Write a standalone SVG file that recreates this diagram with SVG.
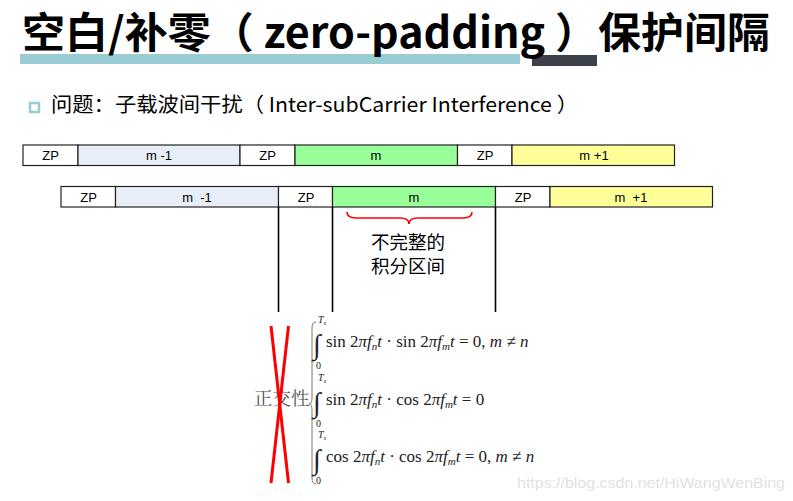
<svg xmlns="http://www.w3.org/2000/svg" width="793" height="501" viewBox="0 0 793 501">
<style>
.cell{stroke:#222;stroke-width:1.2}
.lbl{font-family:"Liberation Sans",Arial,sans-serif;font-size:13px;fill:#000;text-anchor:middle}
.cjk{font-family:"Noto Sans CJK SC",sans-serif}
.math{font-family:"Liberation Serif","Times New Roman",serif;font-size:17px;fill:#222}
.it{font-style:italic}
.vl{stroke:#000;stroke-width:1.6}
</style>
<rect width="793" height="501" fill="#fff"/>
<g id="title">
<rect x="20" y="54" width="500" height="10" fill="#99CCD4"/>
<rect x="532" y="55" width="65" height="11" fill="#3C4049"/>
<text x="22" y="48" class="cjk" font-size="42" font-weight="700" fill="#000" textLength="748" lengthAdjust="spacingAndGlyphs">空白/补零（ zero-padding ）保护间隔</text>
</g>
<g id="subtitle">
<rect x="30" y="103" width="9" height="9" fill="#fff" stroke="#99CCD4" stroke-width="2.5"/>
<text x="51" y="112" class="cjk" font-size="20.5" fill="#000" textLength="527" lengthAdjust="spacingAndGlyphs">问题：子载波间干扰（ Inter-subCarrier Interference ）</text>
</g>
<g id="row1">
<g id="r1-zp1"><rect class="cell" x="23" y="145" width="55" height="20.5" fill="#fff"/><text class="lbl" x="50.5" y="160">ZP</text></g>
<g id="r1-m-1"><rect class="cell" x="78" y="145" width="162" height="20.5" fill="#E8EEF8"/><text class="lbl" x="159" y="160">m -1</text></g>
<g id="r1-zp2"><rect class="cell" x="240" y="145" width="55" height="20.5" fill="#fff"/><text class="lbl" x="267.5" y="160">ZP</text></g>
<g id="r1-m"><rect class="cell" x="295" y="145" width="162.5" height="20.5" fill="#99FF99"/><text class="lbl" x="376" y="160">m</text></g>
<g id="r1-zp3"><rect class="cell" x="457.5" y="145" width="54.5" height="20.5" fill="#fff"/><text class="lbl" x="485" y="160">ZP</text></g>
<g id="r1-m+1"><rect class="cell" x="512" y="145" width="162.5" height="20.5" fill="#FFFF99"/><text class="lbl" x="594" y="160">m +1</text></g>
</g>
<g id="row2">
<g id="r2-zp1"><rect class="cell" x="61" y="186.5" width="54.5" height="20.5" fill="#fff"/><text class="lbl" x="88.5" y="201.5">ZP</text></g>
<g id="r2-m-1"><rect class="cell" x="115.5" y="186.5" width="163" height="20.5" fill="#E8EEF8"/><text class="lbl" x="197" y="201.5" xml:space="preserve">m  -1</text></g>
<g id="r2-zp2"><rect class="cell" x="278.5" y="186.5" width="54" height="20.5" fill="#fff"/><text class="lbl" x="306" y="201.5">ZP</text></g>
<g id="r2-m"><rect class="cell" x="332.5" y="186.5" width="163" height="20.5" fill="#99FF99"/><text class="lbl" x="414" y="201.5">m</text></g>
<g id="r2-zp3"><rect class="cell" x="495.5" y="186.5" width="54.5" height="20.5" fill="#fff"/><text class="lbl" x="523" y="201.5">ZP</text></g>
<g id="r2-m+1"><rect class="cell" x="550" y="186.5" width="162.5" height="20.5" fill="#FFFF99"/><text class="lbl" x="631" y="201.5" xml:space="preserve">m  +1</text></g>
</g>
<g id="connectors">
<line class="vl" x1="278.5" y1="207" x2="278.5" y2="312"/>
<line class="vl" x1="332.5" y1="207" x2="332.5" y2="312"/>
<line class="vl" x1="495.5" y1="207" x2="495.5" y2="312"/>
</g>
<g id="interval-note">
<path d="M347,212 Q347,218 356,218 L400,218 Q409,218 409,224 Q409,218 418,218 L463,218 Q472,218 472,212" fill="none" stroke="#FF0000" stroke-width="1.6"/>
<text x="408" y="249" class="cjk" font-size="18.5" fill="#000" text-anchor="middle">不完整的</text>
<text x="408" y="273" class="cjk" font-size="18.5" fill="#000" text-anchor="middle">积分区间</text>
</g>
<g id="orthogonality">
<text x="254" y="405" font-family="'Noto Serif CJK SC','Noto Sans CJK SC',serif" font-size="18.5" fill="#555">正交性</text>
<path d="M316,322 Q312,322 312,328 L312,398 Q312,404 309,404 Q312,404 312,410 L312,478 Q312,484 316,484" fill="none" stroke="#777" stroke-width="1"/>
<g class="math">
<text x="313" y="354" font-size="28">∫</text>
<text x="318" y="323" font-size="10" class="it">T<tspan font-size="7" dy="2">s</tspan></text>
<text x="316" y="369" font-size="10">0</text>
<text x="326" y="347">sin 2<tspan class="it">πf</tspan><tspan class="it" font-size="11" dy="3">n</tspan><tspan class="it" dy="-3">t</tspan> · sin 2<tspan class="it">πf</tspan><tspan class="it" font-size="11" dy="3">m</tspan><tspan class="it" dy="-3">t</tspan> = 0, <tspan class="it">m</tspan> ≠ <tspan class="it">n</tspan></text>
<text x="313" y="412" font-size="28">∫</text>
<text x="318" y="381" font-size="10" class="it">T<tspan font-size="7" dy="2">s</tspan></text>
<text x="316" y="427" font-size="10">0</text>
<text x="326" y="405">sin 2<tspan class="it">πf</tspan><tspan class="it" font-size="11" dy="3">n</tspan><tspan class="it" dy="-3">t</tspan> · cos 2<tspan class="it">πf</tspan><tspan class="it" font-size="11" dy="3">m</tspan><tspan class="it" dy="-3">t</tspan> = 0</text>
<text x="313" y="469" font-size="28">∫</text>
<text x="318" y="438" font-size="10" class="it">T<tspan font-size="7" dy="2">s</tspan></text>
<text x="316" y="484" font-size="10">0</text>
<text x="326" y="462">cos 2<tspan class="it">πf</tspan><tspan class="it" font-size="11" dy="3">n</tspan><tspan class="it" dy="-3">t</tspan> · cos 2<tspan class="it">πf</tspan><tspan class="it" font-size="11" dy="3">m</tspan><tspan class="it" dy="-3">t</tspan> = 0, <tspan class="it">m</tspan> ≠ <tspan class="it">n</tspan></text>
</g>
<line x1="271" y1="326" x2="288.5" y2="483" stroke="#FF0000" stroke-width="3"/>
<line x1="288.5" y1="326" x2="271" y2="483" stroke="#FF0000" stroke-width="3"/>
</g>
<text x="517" y="488" font-family="'Liberation Sans',Arial,sans-serif" font-size="15" fill="#E2E2E2" textLength="268" lengthAdjust="spacingAndGlyphs">https://blog.csdn.net/HiWangWenBing</text>
</svg>
